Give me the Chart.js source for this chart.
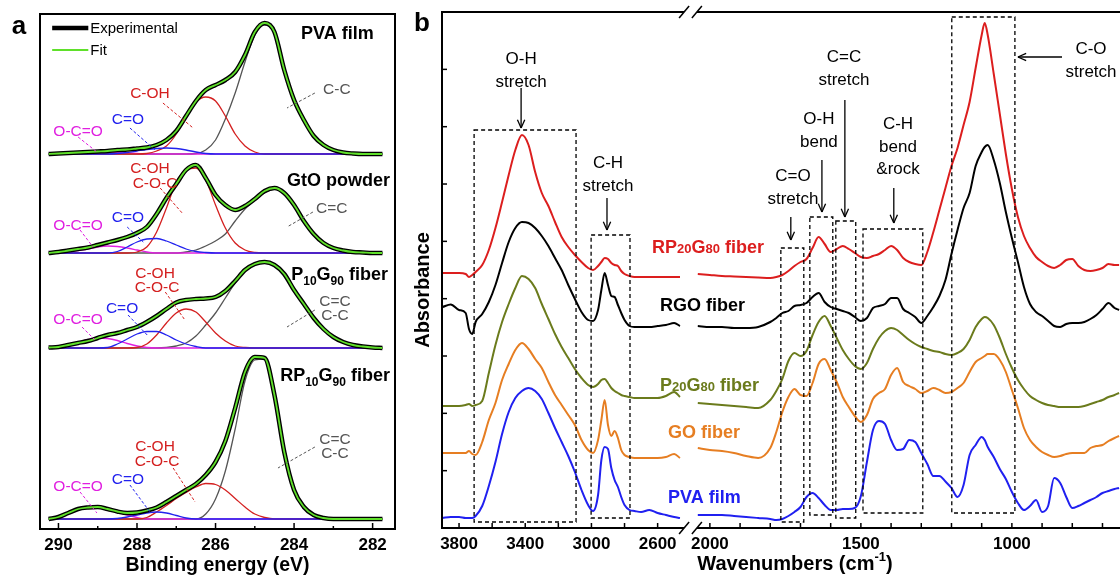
<!DOCTYPE html>
<html>
<head>
<meta charset="utf-8">
<script src="https://cdn.jsdelivr.net/npm/chart.js@4.4.1/dist/chart.umd.min.js"></script>
<style>
    html, body { margin: 0; padding: 0; background: #fff; }
    #wrap { position: relative; width: 1120px; height: 577px; overflow: hidden; }
    canvas { position: absolute; top: 0; }
    #xps { left: 0; }
    #ftir { left: 400px; }
</style>
</head>
<body>
<div id="wrap">
    <canvas id="xps" width="400" height="577"></canvas>
    <canvas id="ftir" width="720" height="577"></canvas>
</div>
<script>
// ---------- panel a : C1s spectra (intensity above each sample's own baseline) ----------
const bindingEnergy = [290.25, 290, 289.75, 289.5, 289.25, 289, 288.75, 288.5, 288.25, 288, 287.75, 287.5, 287.25, 287,
    286.75, 286.5, 286.25, 286, 285.75, 285.5, 285.25, 285, 284.75, 284.5, 284.25, 284, 283.75, 283.5, 283.25, 283,
    282.75, 282.5, 282.25, 282, 281.75];

const pvaExp  = [0, 0.01, 0.02, 0.03, 0.04, 0.05, 0.06, 0.08, 0.09, 0.11, 0.13, 0.18, 0.28, 0.46, 0.76, 1.06, 1.28, 1.38, 1.48, 1.64, 1.98, 2.44, 2.62, 2.44, 1.68, 1.08, 0.68, 0.36, 0.18, 0.08, 0.03, 0.01, 0, 0, 0];
const pvaCC   = [0, 0, 0, 0, 0, 0, 0, 0, 0, 0, 0, 0, 0, 0, 0, 0.01, 0.08, 0.28, 0.70, 1.22, 1.84, 2.38, 2.58, 2.42, 1.68, 1.08, 0.68, 0.36, 0.16, 0.06, 0.02, 0, 0, 0, 0];
const pvaCOH  = [0, 0, 0, 0, 0, 0, 0, 0, 0, 0, 0.01, 0.06, 0.16, 0.40, 0.76, 1.04, 1.14, 1.06, 0.76, 0.40, 0.16, 0.04, 0, 0, 0, 0, 0, 0, 0, 0, 0, 0, 0, 0, 0];
const pvaCO   = [0, 0, 0, 0, 0, 0, 0, 0.01, 0.03, 0.06, 0.09, 0.11, 0.12, 0.11, 0.08, 0.04, 0.01, 0, 0, 0, 0, 0, 0, 0, 0, 0, 0, 0, 0, 0, 0, 0, 0, 0, 0];
const pvaOCO  = [0, 0.01, 0.02, 0.03, 0.04, 0.04, 0.04, 0.03, 0.02, 0.01, 0, 0, 0, 0, 0, 0, 0, 0, 0, 0, 0, 0, 0, 0, 0, 0, 0, 0, 0, 0, 0, 0, 0, 0, 0];

const gtoExp  = [0, 0.02, 0.05, 0.08, 0.11, 0.16, 0.21, 0.26, 0.32, 0.40, 0.52, 0.78, 1.10, 1.38, 1.66, 1.76, 1.50, 1.16, 0.96, 0.86, 0.94, 1.08, 1.24, 1.30, 1.20, 0.96, 0.64, 0.38, 0.20, 0.10, 0.05, 0.02, 0.01, 0, 0];
const gtoCC   = [0, 0, 0, 0, 0, 0, 0, 0, 0, 0, 0, 0, 0, 0, 0.02, 0.06, 0.14, 0.24, 0.38, 0.64, 0.88, 1.06, 1.20, 1.28, 1.20, 0.96, 0.64, 0.38, 0.20, 0.10, 0.05, 0.02, 0.01, 0, 0];
const gtoCOH  = [0, 0, 0, 0, 0, 0, 0, 0, 0, 0.02, 0.12, 0.42, 0.90, 1.42, 1.66, 1.70, 1.46, 0.96, 0.50, 0.20, 0.06, 0.01, 0, 0, 0, 0, 0, 0, 0, 0, 0, 0, 0, 0, 0];
const gtoCO   = [0, 0, 0, 0, 0, 0, 0, 0.03, 0.12, 0.22, 0.28, 0.29, 0.24, 0.16, 0.08, 0.03, 0.01, 0, 0, 0, 0, 0, 0, 0, 0, 0, 0, 0, 0, 0, 0, 0, 0, 0, 0];
const gtoOCO  = [0, 0, 0.02, 0.05, 0.08, 0.12, 0.14, 0.13, 0.10, 0.06, 0.02, 0, 0, 0, 0, 0, 0, 0, 0, 0, 0, 0, 0, 0, 0, 0, 0, 0, 0, 0, 0, 0, 0, 0, 0];

const pgExp   = [0.01, 0.02, 0.06, 0.10, 0.14, 0.20, 0.26, 0.30, 0.36, 0.42, 0.52, 0.64, 0.78, 0.91, 0.96, 0.98, 0.99, 1.02, 1.14, 1.34, 1.56, 1.68, 1.72, 1.66, 1.48, 1.16, 0.88, 0.60, 0.38, 0.22, 0.12, 0.06, 0.03, 0.01, 0];
const pgCC    = [0, 0, 0, 0, 0, 0, 0, 0, 0, 0, 0, 0, 0.01, 0.04, 0.10, 0.24, 0.46, 0.70, 1.00, 1.30, 1.56, 1.66, 1.70, 1.64, 1.48, 1.16, 0.88, 0.60, 0.38, 0.22, 0.12, 0.06, 0.03, 0.01, 0];
const pgCOH   = [0, 0, 0, 0, 0, 0, 0, 0, 0, 0.01, 0.08, 0.26, 0.50, 0.70, 0.78, 0.72, 0.52, 0.30, 0.14, 0.04, 0.01, 0, 0, 0, 0, 0, 0, 0, 0, 0, 0, 0, 0, 0, 0];
const pgCO    = [0, 0, 0, 0, 0, 0, 0.01, 0.08, 0.18, 0.28, 0.33, 0.33, 0.26, 0.16, 0.08, 0.03, 0, 0, 0, 0, 0, 0, 0, 0, 0, 0, 0, 0, 0, 0, 0, 0, 0, 0, 0];
const pgOCO   = [0.01, 0.03, 0.07, 0.12, 0.17, 0.20, 0.19, 0.15, 0.09, 0.04, 0.01, 0, 0, 0, 0, 0, 0, 0, 0, 0, 0, 0, 0, 0, 0, 0, 0, 0, 0, 0, 0, 0, 0, 0, 0];

const rpExp   = [0, 0.04, 0.12, 0.20, 0.23, 0.24, 0.20, 0.15, 0.12, 0.13, 0.17, 0.23, 0.34, 0.46, 0.58, 0.70, 0.88, 1.14, 1.56, 2.22, 2.94, 3.24, 3.22, 2.48, 1.34, 0.58, 0.24, 0.08, 0.02, 0, 0, 0, 0, 0, 0];
const rpCC    = [0, 0, 0, 0, 0, 0, 0, 0, 0, 0, 0, 0, 0, 0, 0, 0, 0.10, 0.40, 0.96, 1.80, 2.76, 3.18, 3.20, 2.46, 1.32, 0.58, 0.24, 0.08, 0.02, 0, 0, 0, 0, 0, 0];
const rpCOH   = [0, 0, 0, 0, 0, 0, 0, 0, 0, 0, 0.03, 0.14, 0.27, 0.41, 0.53, 0.64, 0.71, 0.69, 0.58, 0.41, 0.24, 0.10, 0.03, 0, 0, 0, 0, 0, 0, 0, 0, 0, 0, 0, 0];
const rpCO    = [0, 0, 0, 0, 0, 0, 0, 0.01, 0.04, 0.08, 0.12, 0.14, 0.12, 0.07, 0.02, 0, 0, 0, 0, 0, 0, 0, 0, 0, 0, 0, 0, 0, 0, 0, 0, 0, 0, 0, 0];
const rpOCO   = [0.01, 0.04, 0.12, 0.19, 0.23, 0.24, 0.20, 0.14, 0.08, 0.03, 0, 0, 0, 0, 0, 0, 0, 0, 0, 0, 0, 0, 0, 0, 0, 0, 0, 0, 0, 0, 0, 0, 0, 0, 0];

// vertical stacking of the four samples (top to bottom)
const xpsOffsets = [7.50, 5.52, 3.62, 0.20];
const energyTicks = [290, 289, 288, 287, 286, 285, 284, 283, 282];
const energyLabels = [290, 288, 286, 284, 282];

// ---------- panel b : FTIR spectra ----------
const wnLeft = [3900, 3850, 3800, 3760, 3740, 3720, 3700, 3660, 3620, 3580, 3540, 3500, 3460, 3420, 3380, 3340, 3300,
    3260, 3220, 3180, 3140, 3100, 3060, 3020, 2990, 2960, 2940, 2920, 2900, 2880, 2860, 2840, 2820, 2800, 2770, 2740,
    2700, 2650, 2600, 2550, 2500, 2465];
const wnRight = [2040, 2000, 1960, 1920, 1880, 1840, 1800, 1780, 1760, 1740, 1720, 1700, 1680, 1660, 1640, 1620, 1600,
    1580, 1560, 1540, 1520, 1500, 1480, 1460, 1440, 1420, 1400, 1380, 1360, 1340, 1320, 1300, 1280, 1260, 1240, 1220,
    1200, 1180, 1160, 1140, 1120, 1100, 1090, 1080, 1060, 1040, 1020, 1000, 980, 960, 940, 920, 900, 880, 860, 840,
    820, 800, 780, 760, 740, 720, 700, 680, 660, 645];

const absRP20G80Left = [5.10, 5.10, 5.10, 5.08, 5.02, 5.06, 5.12, 5.26, 5.56, 6.00, 6.52, 7.06, 7.56, 7.86, 7.66, 7.12, 6.70, 6.44, 6.12, 5.82, 5.62, 5.46, 5.32, 5.20, 5.16, 5.24, 5.32, 5.40, 5.38, 5.30, 5.26, 5.24, 5.14, 5.08, 5.04, 5.02, 5.02, 5.02, 5.02, 5.02, 5.02, 5.02];
const absRGOLeft     = [4.42, 4.47, 4.36, 4.30, 3.98, 3.88, 4.12, 4.28, 4.52, 4.86, 5.30, 5.72, 6.00, 6.12, 6.10, 6.00, 5.84, 5.64, 5.40, 5.16, 4.86, 4.58, 4.32, 4.16, 4.14, 4.36, 4.76, 5.10, 4.86, 4.64, 4.62, 4.46, 4.30, 4.16, 4.04, 4.02, 4.02, 4.02, 4.04, 4.06, 4.10, 4.04];
const absP20G80Left  = [2.44, 2.44, 2.44, 2.46, 2.48, 2.44, 2.46, 2.54, 3.10, 3.66, 4.12, 4.48, 4.80, 5.04, 4.98, 4.80, 4.48, 4.18, 3.88, 3.62, 3.40, 3.18, 3.00, 2.86, 2.82, 2.88, 2.96, 2.98, 2.90, 2.80, 2.74, 2.70, 2.66, 2.64, 2.62, 2.60, 2.60, 2.60, 2.60, 2.64, 2.72, 2.62];
const absGOLeft      = [1.50, 1.50, 1.50, 1.50, 1.54, 1.48, 1.46, 1.72, 2.16, 2.50, 2.96, 3.28, 3.56, 3.70, 3.58, 3.38, 3.20, 2.92, 2.66, 2.46, 2.26, 2.06, 1.76, 1.56, 1.50, 1.76, 2.16, 2.56, 2.06, 1.84, 1.94, 1.80, 1.56, 1.46, 1.42, 1.40, 1.40, 1.40, 1.40, 1.42, 1.48, 1.40];
const absPVALeft     = [0.20, 0.22, 0.22, 0.20, 0.20, 0.20, 0.24, 0.44, 0.84, 1.32, 1.88, 2.32, 2.60, 2.74, 2.80, 2.74, 2.58, 2.30, 2.00, 1.72, 1.44, 1.12, 0.76, 0.46, 0.34, 0.66, 1.36, 1.62, 1.58, 1.20, 0.96, 0.82, 0.62, 0.46, 0.36, 0.34, 0.32, 0.36, 0.30, 0.26, 0.22, 0.20];

const absRP20G80Right = [5.08, 5.06, 5.04, 5.03, 5.02, 5.01, 5.00, 5.02, 5.06, 5.14, 5.24, 5.32, 5.38, 5.60, 5.82, 5.68, 5.52, 5.58, 5.64, 5.58, 5.50, 5.42, 5.40, 5.44, 5.48, 5.56, 5.64, 5.56, 5.40, 5.32, 5.28, 5.26, 5.52, 5.92, 6.36, 6.80, 7.24, 7.60, 8.06, 8.52, 9.20, 9.86, 10.10, 9.86, 9.08, 8.28, 7.48, 6.78, 6.22, 5.84, 5.60, 5.42, 5.32, 5.24, 5.20, 5.26, 5.36, 5.38, 5.24, 5.16, 5.14, 5.16, 5.20, 5.28, 5.26, 5.26];
const absRGORight     = [4.04, 4.02, 4.02, 4.00, 4.00, 4.02, 4.12, 4.20, 4.30, 4.34, 4.44, 4.46, 4.50, 4.62, 4.70, 4.52, 4.42, 4.38, 4.34, 4.30, 4.22, 4.14, 4.20, 4.40, 4.44, 4.48, 4.60, 4.60, 4.38, 4.30, 4.22, 4.10, 4.24, 4.42, 4.64, 4.96, 5.48, 5.96, 6.40, 6.70, 7.24, 7.52, 7.62, 7.66, 7.36, 6.90, 6.32, 5.80, 5.32, 4.82, 4.48, 4.32, 4.24, 4.14, 4.04, 4.02, 4.08, 4.10, 4.10, 4.12, 4.18, 4.26, 4.38, 4.50, 4.40, 4.36];
const absP20G80Right  = [2.50, 2.48, 2.46, 2.44, 2.42, 2.40, 2.56, 2.74, 2.98, 3.34, 3.50, 3.44, 3.54, 3.86, 4.12, 4.24, 4.04, 3.80, 3.56, 3.38, 3.24, 3.18, 3.30, 3.58, 3.80, 3.94, 4.00, 3.96, 3.86, 3.76, 3.68, 3.62, 3.58, 3.54, 3.52, 3.48, 3.46, 3.50, 3.58, 3.76, 4.02, 4.18, 4.22, 4.20, 4.06, 3.80, 3.48, 3.20, 2.96, 2.78, 2.64, 2.56, 2.50, 2.46, 2.44, 2.42, 2.42, 2.42, 2.42, 2.44, 2.48, 2.52, 2.56, 2.62, 2.66, 2.70];
const absGORight      = [1.60, 1.56, 1.54, 1.50, 1.44, 1.40, 1.60, 1.92, 2.32, 2.62, 2.78, 2.66, 2.64, 2.90, 3.28, 3.38, 3.16, 2.92, 2.62, 2.42, 2.24, 2.12, 2.26, 2.58, 2.70, 2.78, 3.06, 3.20, 2.92, 2.84, 2.78, 2.70, 2.74, 2.80, 2.76, 2.70, 2.72, 2.80, 2.90, 3.12, 3.32, 3.40, 3.44, 3.48, 3.48, 3.36, 3.12, 2.76, 2.40, 2.00, 1.76, 1.62, 1.52, 1.46, 1.42, 1.44, 1.48, 1.50, 1.50, 1.50, 1.60, 1.64, 1.66, 1.74, 1.80, 1.84];
const absPVARight     = [0.26, 0.26, 0.26, 0.24, 0.22, 0.20, 0.18, 0.16, 0.18, 0.24, 0.32, 0.42, 0.62, 0.70, 0.60, 0.46, 0.36, 0.36, 0.38, 0.38, 0.40, 0.64, 1.32, 1.96, 2.14, 2.08, 1.76, 1.56, 1.58, 1.76, 1.72, 1.50, 1.28, 1.04, 1.04, 0.93, 0.80, 0.62, 0.86, 1.46, 1.66, 1.82, 1.76, 1.62, 1.42, 1.18, 0.98, 0.72, 0.50, 0.36, 0.44, 0.56, 0.32, 0.44, 1.00, 0.90, 0.62, 0.40, 0.44, 0.50, 0.56, 0.62, 0.70, 0.74, 0.78, 0.80];

const wnTicksLeft = [3800, 3600, 3400, 3200, 3000, 2800, 2600];
const wnLabelsLeft = [3800, 3400, 3000, 2600];
const wnTicksRight = [2000, 1900, 1800, 1700, 1600, 1500, 1400, 1300, 1200, 1100, 1000, 900, 800, 700];
const wnLabelsRight = [2000, 1500, 1000];
const absTickStep = 1.1466;
const breakLeft = 2440;   // end of the left part (on xL)
const breakRight = 2043;  // start of the right part (on xR)

// ---------- drawing helpers ----------
const FONT = '"Liberation Sans", Arial, Helvetica, sans-serif';
const RED = '#d42020', BLUE = '#2222ee', MAG = '#e020e0', GREY = '#555555', GREEN = '#5fe02a';
const F_RED = '#dc1e1e', F_OLIVE = '#6b7b1c', F_ORANGE = '#e67e22', F_BLUE = '#2020f0';

function setFont(ctx, size, bold) {
    ctx.font = (bold ? 'bold ' : '') + size + 'px ' + FONT;
}
// parts: [text, size, bold, dy]; y is the vertical middle of the main text
function richText(ctx, parts, x, y, align, color) {
    let w = 0;
    parts.forEach(p => { setFont(ctx, p[1], p[2]); w += ctx.measureText(p[0]).width; });
    let cx = align === 'right' ? x - w : align === 'center' ? x - w / 2 : x;
    const base = y + parts[0][1] * 0.36;
    ctx.fillStyle = color;
    ctx.textAlign = 'left';
    ctx.textBaseline = 'alphabetic';
    parts.forEach(p => {
        setFont(ctx, p[1], p[2]);
        ctx.fillText(p[0], cx, base + (p[3] || 0));
        cx += ctx.measureText(p[0]).width;
    });
}
function plain(ctx, str, x, y, size, bold, color, align) {
    richText(ctx, [[str, size, bold, 0]], x, y, align || 'center', color || '#000');
}
function seg(ctx, x1, y1, x2, y2) {
    ctx.beginPath(); ctx.moveTo(x1, y1); ctx.lineTo(x2, y2); ctx.stroke();
}
function arrow(ctx, x1, y1, x2, y2) {
    seg(ctx, x1, y1, x2, y2);
    const ang = Math.atan2(y2 - y1, x2 - x1), L = 9, s = 0.42;
    seg(ctx, x2, y2, x2 - L * Math.cos(ang - s), y2 - L * Math.sin(ang - s));
    seg(ctx, x2, y2, x2 - L * Math.cos(ang + s), y2 - L * Math.sin(ang + s));
}

// ---------- panel a annotations ----------
const xpsNames = [
    [[['PVA film', 18, true, 0]], 281.97, 9.92],
    [[['GtO powder', 18, true, 0]], 281.56, 6.98],
    [[['P', 18, true, 0], ['10', 12, true, 5], ['G', 18, true, 0], ['90', 12, true, 5], [' fiber', 18, true, 0]], 281.61, 5.10],
    [[['RP', 18, true, 0], ['10', 12, true, 5], ['G', 18, true, 0], ['90', 12, true, 5], [' fiber', 18, true, 0]], 281.56, 3.08],
];
const xpsLabels = [
    ['C-C', 282.91, 8.82, GREY], ['C-OH', 287.67, 8.74, RED], ['C=O', 288.23, 8.22, BLUE], ['O-C=O', 289.50, 7.98, MAG],
    ['C=C', 283.04, 6.44, GREY], ['C-OH', 287.67, 7.24, RED], ['C-O-C', 287.54, 6.94, RED], ['C=O', 288.23, 6.26, BLUE], ['O-C=O', 289.50, 6.10, MAG],
    ['C=C', 282.96, 4.58, GREY], ['C-C', 282.96, 4.30, GREY], ['C-OH', 287.54, 5.14, RED], ['C-O-C', 287.49, 4.86, RED], ['C=O', 288.38, 4.44, BLUE], ['O-C=O', 289.50, 4.22, MAG],
    ['C=C', 282.96, 1.82, GREY], ['C-C', 282.96, 1.54, GREY], ['C-OH', 287.54, 1.68, RED], ['C-O-C', 287.49, 1.38, RED], ['C=O', 288.23, 1.02, BLUE], ['O-C=O', 289.50, 0.88, MAG],
];
const xpsLeaders = [
    [283.47, 8.72, 284.18, 8.42, GREY], [287.34, 8.52, 286.57, 8.02, RED], [288.18, 8.02, 287.54, 7.58, BLUE], [289.50, 7.84, 289.02, 7.54, MAG],
    [283.52, 6.34, 284.18, 6.04, GREY], [287.41, 6.82, 286.85, 6.32, RED], [288.25, 6.04, 287.84, 5.74, BLUE], [289.45, 5.98, 289.12, 5.64, MAG],
    [283.47, 4.38, 284.18, 4.04, GREY], [287.28, 4.74, 286.78, 4.18, RED], [288.23, 4.28, 287.74, 3.88, BLUE], [289.40, 4.04, 289.07, 3.78, MAG],
    [283.47, 1.64, 284.41, 1.22, GREY], [287.08, 1.22, 286.52, 0.54, RED], [288.18, 0.88, 287.67, 0.34, BLUE], [289.45, 0.74, 289.02, 0.32, MAG],
];

const xpsDecor = {
    id: 'xpsDecor',
    afterDraw(chart) {
        const { ctx, chartArea: a, scales: { x, y } } = chart;
        const X = v => x.getPixelForValue(v), Y = v => y.getPixelForValue(v);
        ctx.save();
        ctx.strokeStyle = '#000';
        ctx.lineWidth = 2;
        ctx.strokeRect(a.left, a.top, a.right - a.left, a.bottom - a.top);
        ctx.lineWidth = 1.5;
        energyTicks.forEach(e => seg(ctx, X(e), a.bottom, X(e), a.bottom - (e % 2 === 0 ? 6 : 3)));
        energyLabels.forEach(e => plain(ctx, String(e), X(e), a.bottom + 15, 17, true));
        plain(ctx, 'Binding energy (eV)', (a.left + a.right) / 2, a.bottom + 35, 19.5, true);

        // legend
        ctx.lineWidth = 4.5; ctx.strokeStyle = '#000';
        seg(ctx, X(290.16), Y(10.02), X(289.24), Y(10.02));
        ctx.lineWidth = 2; ctx.strokeStyle = GREEN;
        seg(ctx, X(290.16), Y(9.58), X(289.24), Y(9.58));
        plain(ctx, 'Experimental', X(289.19), Y(10.02), 15, false, '#000', 'left');
        plain(ctx, 'Fit', X(289.19), Y(9.58), 15, false, '#000', 'left');

        xpsNames.forEach(n => richText(ctx, n[0], X(n[1]), Y(n[2]), 'right', '#000'));
        ctx.lineWidth = 1;
        ctx.setLineDash([3, 2]);
        xpsLeaders.forEach(l => { ctx.strokeStyle = l[4]; seg(ctx, X(l[0]), Y(l[1]), X(l[2]), Y(l[3])); });
        ctx.setLineDash([]);
        xpsLabels.forEach(l => plain(ctx, l[0], X(l[1]), Y(l[2]), 15.5, false, l[3]));
        plain(ctx, 'a', 19, 25, 26, true);
        ctx.restore();
    }
};

function stacked(vals, offset) {
    return vals.map((v, i) => ({ x: bindingEnergy[i], y: v + offset }));
}

const xpsSamples = [
    { exp: pvaExp, cc: pvaCC, coh: pvaCOH, co: pvaCO, oco: pvaOCO },
    { exp: gtoExp, cc: gtoCC, coh: gtoCOH, co: gtoCO, oco: gtoOCO },
    { exp: pgExp,  cc: pgCC,  coh: pgCOH,  co: pgCO,  oco: pgOCO },
    { exp: rpExp,  cc: rpCC,  coh: rpCOH,  co: rpCO,  oco: rpOCO },
];
const xpsDatasets = [];
xpsSamples.forEach((s, k) => {
    const off = xpsOffsets[k];
    const comp = (vals, color, order) => ({
        data: stacked(vals, off), borderColor: color, borderWidth: 1.3, order,
        cubicInterpolationMode: 'monotone', pointRadius: 0, fill: false
    });
    xpsDatasets.push(comp(s.cc, GREY, 5), comp(s.oco, MAG, 4), comp(s.coh, RED, 3), comp(s.co, BLUE, 2));
    xpsDatasets.push({ label: 'Experimental', data: stacked(s.exp, off), borderColor: '#000', borderWidth: 4.5, order: 1,
        cubicInterpolationMode: 'monotone', pointRadius: 0, fill: false });
    xpsDatasets.push({ label: 'Fit', data: stacked(s.exp, off), borderColor: GREEN, borderWidth: 1.8, order: 0,
        cubicInterpolationMode: 'monotone', pointRadius: 0, fill: false });
});

new Chart(document.getElementById('xps'), {
    type: 'line',
    data: { datasets: xpsDatasets },
    options: {
        responsive: false, animation: false, devicePixelRatio: 1,
        layout: { padding: { left: 40, right: 5, top: 14, bottom: 48 } },
        plugins: { legend: { display: false }, tooltip: { enabled: false } },
        scales: {
            x: { type: 'linear', reverse: true, min: 281.43, max: 290.47, display: false },
            y: { type: 'linear', min: 0, max: 10.3, display: false }
        }
    },
    plugins: [xpsDecor]
});

// ---------- panel b annotations ----------
const bandBoxes = [ // [axis, from, to, top, bottom]
    ['L', 3709, 3093, 7.96, 0.12],
    ['L', 3002, 2767, 5.86, 0.20],
    ['R', 1765, 1689, 5.60, 0.12],
    ['R', 1669, 1593, 6.22, 0.26],
    ['R', 1583, 1517, 6.14, 0.20],
    ['R', 1493, 1295, 5.98, 0.30],
    ['R', 1199, 990, 10.22, 0.30],
];
const bandLabels = [ // [axis, wavenumber, first line y, lines, arrow]
    ['L', 3425, 9.40, ['O-H', 'stretch'], [3425, 8.80, 3425, 8.00]],
    ['L', 2900, 7.32, ['C-H', 'stretch'], [2906, 6.60, 2906, 5.96]],
    ['R', 1725, 7.06, ['C=O', 'stretch'], [1732, 6.22, 1732, 5.76]],
    ['R', 1639, 8.20, ['O-H', 'bend'], [1629, 7.36, 1629, 6.32]],
    ['R', 1556, 9.44, ['C=C', 'stretch'], [1553, 8.56, 1553, 6.22]],
    ['R', 1377, 8.10, ['C-H', 'bend', '&rock'], [1391, 6.80, 1391, 6.10]],
    ['R', 738, 9.60, ['C-O', 'stretch'], [834, 9.42, 980, 9.42]],
];
const seriesNames = [
    [[['RP', 18, true, 0], ['20', 13, true, 0], ['G', 18, true, 0], ['80', 13, true, 0], [' fiber', 18, true, 0]], 2634, 5.62, F_RED],
    [[['RGO fiber', 18, true, 0]], 2585, 4.46, '#000'],
    [[['P', 18, true, 0], ['20', 13, true, 0], ['G', 18, true, 0], ['80', 13, true, 0], [' fiber', 18, true, 0]], 2585, 2.86, F_OLIVE],
    [[['GO fiber', 18, true, 0]], 2537, 1.92, F_ORANGE],
    [[['PVA film', 18, true, 0]], 2537, 0.62, F_BLUE],
];

const ftirDecor = {
    id: 'ftirDecor',
    afterDraw(chart) {
        const { ctx, chartArea: a, scales } = chart;
        const xL = scales.xL, xR = scales.xR, y = scales.y;
        const X = (axis, v) => (axis === 'L' ? xL : xR).getPixelForValue(v);
        const Y = v => y.getPixelForValue(v);
        ctx.save();
        ctx.strokeStyle = '#000';
        ctx.lineWidth = 2;
        const gA = X('L', breakLeft), gB = X('R', breakRight);
        seg(ctx, a.left, a.top - 1, a.left, a.bottom + 1);
        seg(ctx, a.left, a.top, gA, a.top); seg(ctx, gB, a.top, a.right, a.top);
        seg(ctx, a.left, a.bottom, gA, a.bottom); seg(ctx, gB, a.bottom, a.right, a.bottom);
        ctx.lineWidth = 1.5;
        [gA, gB].forEach(g => [a.top, a.bottom].forEach(yy => seg(ctx, g - 5, yy + 6, g + 5, yy - 6)));

        // ticks, pointing inwards
        for (let v = absTickStep; v < y.max - 0.1; v += absTickStep) seg(ctx, a.left, Y(v), a.left + 5, Y(v));
        wnTicksLeft.forEach(w => seg(ctx, X('L', w), a.bottom, X('L', w), a.bottom - 5));
        wnTicksRight.forEach(w => seg(ctx, X('R', w), a.bottom, X('R', w), a.bottom - 5));
        wnLabelsLeft.forEach(w => plain(ctx, String(w), X('L', w), a.bottom + 15, 17, true));
        wnLabelsRight.forEach(w => plain(ctx, String(w), X('R', w), a.bottom + 15, 17, true));
        richText(ctx, [['Wavenumbers (cm', 20, true, 0], ['-1', 13, true, -9], [')', 20, true, 0]], 395, a.bottom + 35, 'center', '#000');
        ctx.save();
        ctx.translate(22, 290);
        ctx.rotate(-Math.PI / 2);
        plain(ctx, 'Absorbance', 0, 0, 20, true);
        ctx.restore();

        // band boxes
        ctx.lineWidth = 1.3;
        ctx.setLineDash([4, 3]);
        bandBoxes.forEach(b => {
            const x1 = X(b[0], b[1]), x2 = X(b[0], b[2]);
            ctx.strokeRect(x1, Y(b[3]), x2 - x1, Y(b[4]) - Y(b[3]));
        });
        ctx.setLineDash([]);
        ctx.lineWidth = 1.3;
        bandLabels.forEach(l => {
            l[3].forEach((t, i) => plain(ctx, t, X(l[0], l[1]), Y(l[2]) + i * 22.5, 17, false));
            const ar = l[4];
            arrow(ctx, X(l[0], ar[0]), Y(ar[1]), X(l[0], ar[2]), Y(ar[3]));
        });
        seriesNames.forEach(n => richText(ctx, n[0], X('L', n[1]), Y(n[2]), 'left', n[3]));
        plain(ctx, 'b', 22, 22, 26, true);
        ctx.restore();
    }
};

function spectrum(wn, vals) {
    return vals.map((v, i) => ({ x: wn[i], y: v }));
}
const ftirSeries = [
    ['RP20G80 fiber', F_RED, absRP20G80Left, absRP20G80Right],
    ['RGO fiber', '#000', absRGOLeft, absRGORight],
    ['P20G80 fiber', F_OLIVE, absP20G80Left, absP20G80Right],
    ['GO fiber', F_ORANGE, absGOLeft, absGORight],
    ['PVA film', F_BLUE, absPVALeft, absPVARight],
];
const ftirDatasets = [];
ftirSeries.forEach(s => {
    const base = { label: s[0], borderColor: s[1], borderWidth: 2, pointRadius: 0, fill: false, cubicInterpolationMode: 'monotone' };
    ftirDatasets.push(Object.assign({}, base, { data: spectrum(wnLeft, s[2]), xAxisID: 'xL' }));
    ftirDatasets.push(Object.assign({}, base, { data: spectrum(wnRight, s[3]), xAxisID: 'xR' }));
});

new Chart(document.getElementById('ftir'), {
    type: 'line',
    data: { datasets: ftirDatasets },
    options: {
        responsive: false, animation: false, devicePixelRatio: 1,
        layout: { padding: { left: 42, right: 0, top: 12, bottom: 49 } },
        plugins: { legend: { display: false }, tooltip: { enabled: false } },
        scales: {
            xL: { type: 'linear', axis: 'x', position: 'bottom', reverse: true, min: -194, max: 3903, display: false },
            xR: { type: 'linear', axis: 'x', position: 'bottom', reverse: true, min: 642, max: 2887, display: false },
            y: { type: 'linear', min: 0, max: 10.32, display: false }
        }
    },
    plugins: [ftirDecor]
});
</script>
</body>
</html>
